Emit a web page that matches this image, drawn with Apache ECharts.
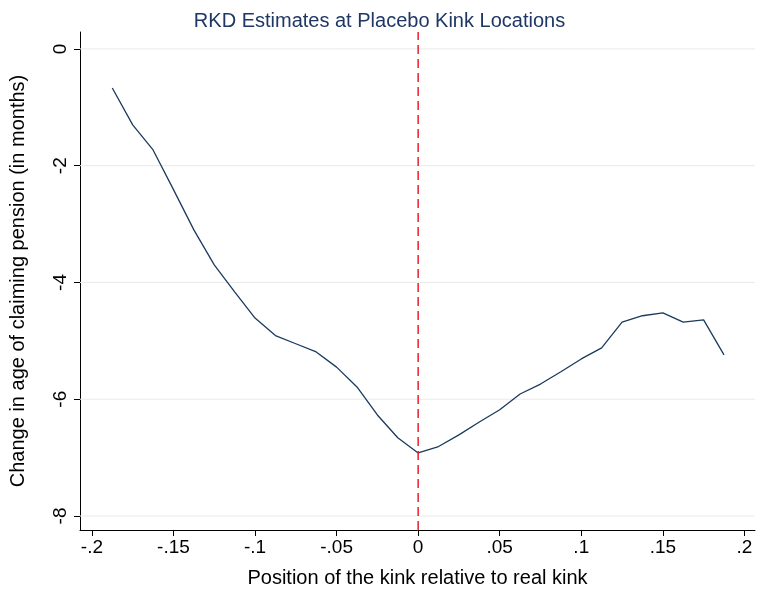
<!DOCTYPE html>
<html>
<head>
<meta charset="UTF-8">
<script src="https://cdn.jsdelivr.net/npm/echarts@6/dist/echarts.min.js"></script>
<style>body{margin:0;background:#fff}#main{width:759px;height:596px}</style>
</head>
<body>
<div id="main"></div>
<script>
var xs = [-0.1875,-0.175,-0.1625,-0.15,-0.1375,-0.125,-0.1125,-0.1,-0.0875,-0.075,-0.0625,-0.05,-0.0375,-0.025,-0.0125,0,
          0.0125,0.025,0.0375,0.05,0.0625,0.075,0.0875,0.1,0.1125,0.125,0.1375,0.15,0.1625,0.175,0.1875];
var ys = [-0.67,-1.30,-1.73,-2.41,-3.10,-3.70,-4.16,-4.61,-4.91,-5.05,-5.19,-5.45,-5.79,-6.27,-6.66,-6.92,
          -6.81,-6.61,-6.39,-6.18,-5.91,-5.74,-5.53,-5.31,-5.12,-4.68,-4.57,-4.52,-4.68,-4.64,-5.24];
var xTicks = [-0.2,-0.15,-0.1,-0.05,0,0.05,0.1,0.15,0.2];
var yTicks = [0,-2,-4,-6,-8];
var xMin = -0.2073, xMax = 0.2065;
var yMin = -8.24, yMax = 0.29;

function fmt(v){
    var s = String(Math.round(v*100)/100);
    return s.replace('0.', '.');
}
var data = xs.map(function(x,i){ return [x, ys[i]]; });
var gridSeries = yTicks.map(function(v){
    return {
        type: 'line', data: [[xMin, v], [xMax, v]], symbol: 'none', silent: true, z: 1,
        lineStyle: {color: '#eaeaea', width: 1}
    };
});
var myChart = echarts.init(document.getElementById('main'));
var option = {
    title: {
        text: 'RKD Estimates at Placebo Kink Locations',
        left: 'center', top: 6,
        textStyle: {fontFamily: 'Liberation Sans', fontSize: 20, fontWeight: 'normal', color: '#1e3765'}
    },
    grid: {left: 78, right: 4, top: 32, bottom: 66},
    xAxis: {
        type: 'value', min: xMin, max: xMax,
        name: 'Position of the kink relative to real kink',
        nameLocation: 'middle', nameGap: 38,
        nameTextStyle: {fontFamily: 'Liberation Sans', fontSize: 20, color: '#000'},
        axisLine: {show: true, onZero: false, lineStyle: {color: '#000'}},
        axisTick: {show: true, length: 6, customValues: xTicks, lineStyle: {color: '#000'}},
        axisLabel: {customValues: xTicks, formatter: fmt, fontFamily: 'Liberation Sans', fontSize: 19, color: '#000', margin: 8},
        splitLine: {show: false}
    },
    yAxis: {
        type: 'value', min: yMin, max: yMax,
        name: 'Change in age of claiming pension (in months)',
        nameLocation: 'middle', nameGap: 52,
        nameTextStyle: {fontFamily: 'Liberation Sans', fontSize: 20, color: '#000'},
        axisLine: {show: true, onZero: false, lineStyle: {color: '#000'}},
        axisTick: {show: true, length: 6, customValues: yTicks, lineStyle: {color: '#000'}},
        axisLabel: {customValues: yTicks, rotate: 90, fontFamily: 'Liberation Sans', fontSize: 19, color: '#000', margin: 10},
        splitLine: {show: false}
    },
    series: gridSeries.concat([{
        type: 'line', data: data, symbol: 'none', silent: true, z: 3,
        lineStyle: {color: '#1a3a5e', width: 1.3}
    }, {
        type: 'line', data: [[0, yMin], [0, yMax]], symbol: 'none', silent: true, z: 4,
        lineStyle: {color: '#e8202a', width: 1.5, type: [9, 5]}
    }])
};
myChart.setOption(option);
</script>
</body>
</html>
